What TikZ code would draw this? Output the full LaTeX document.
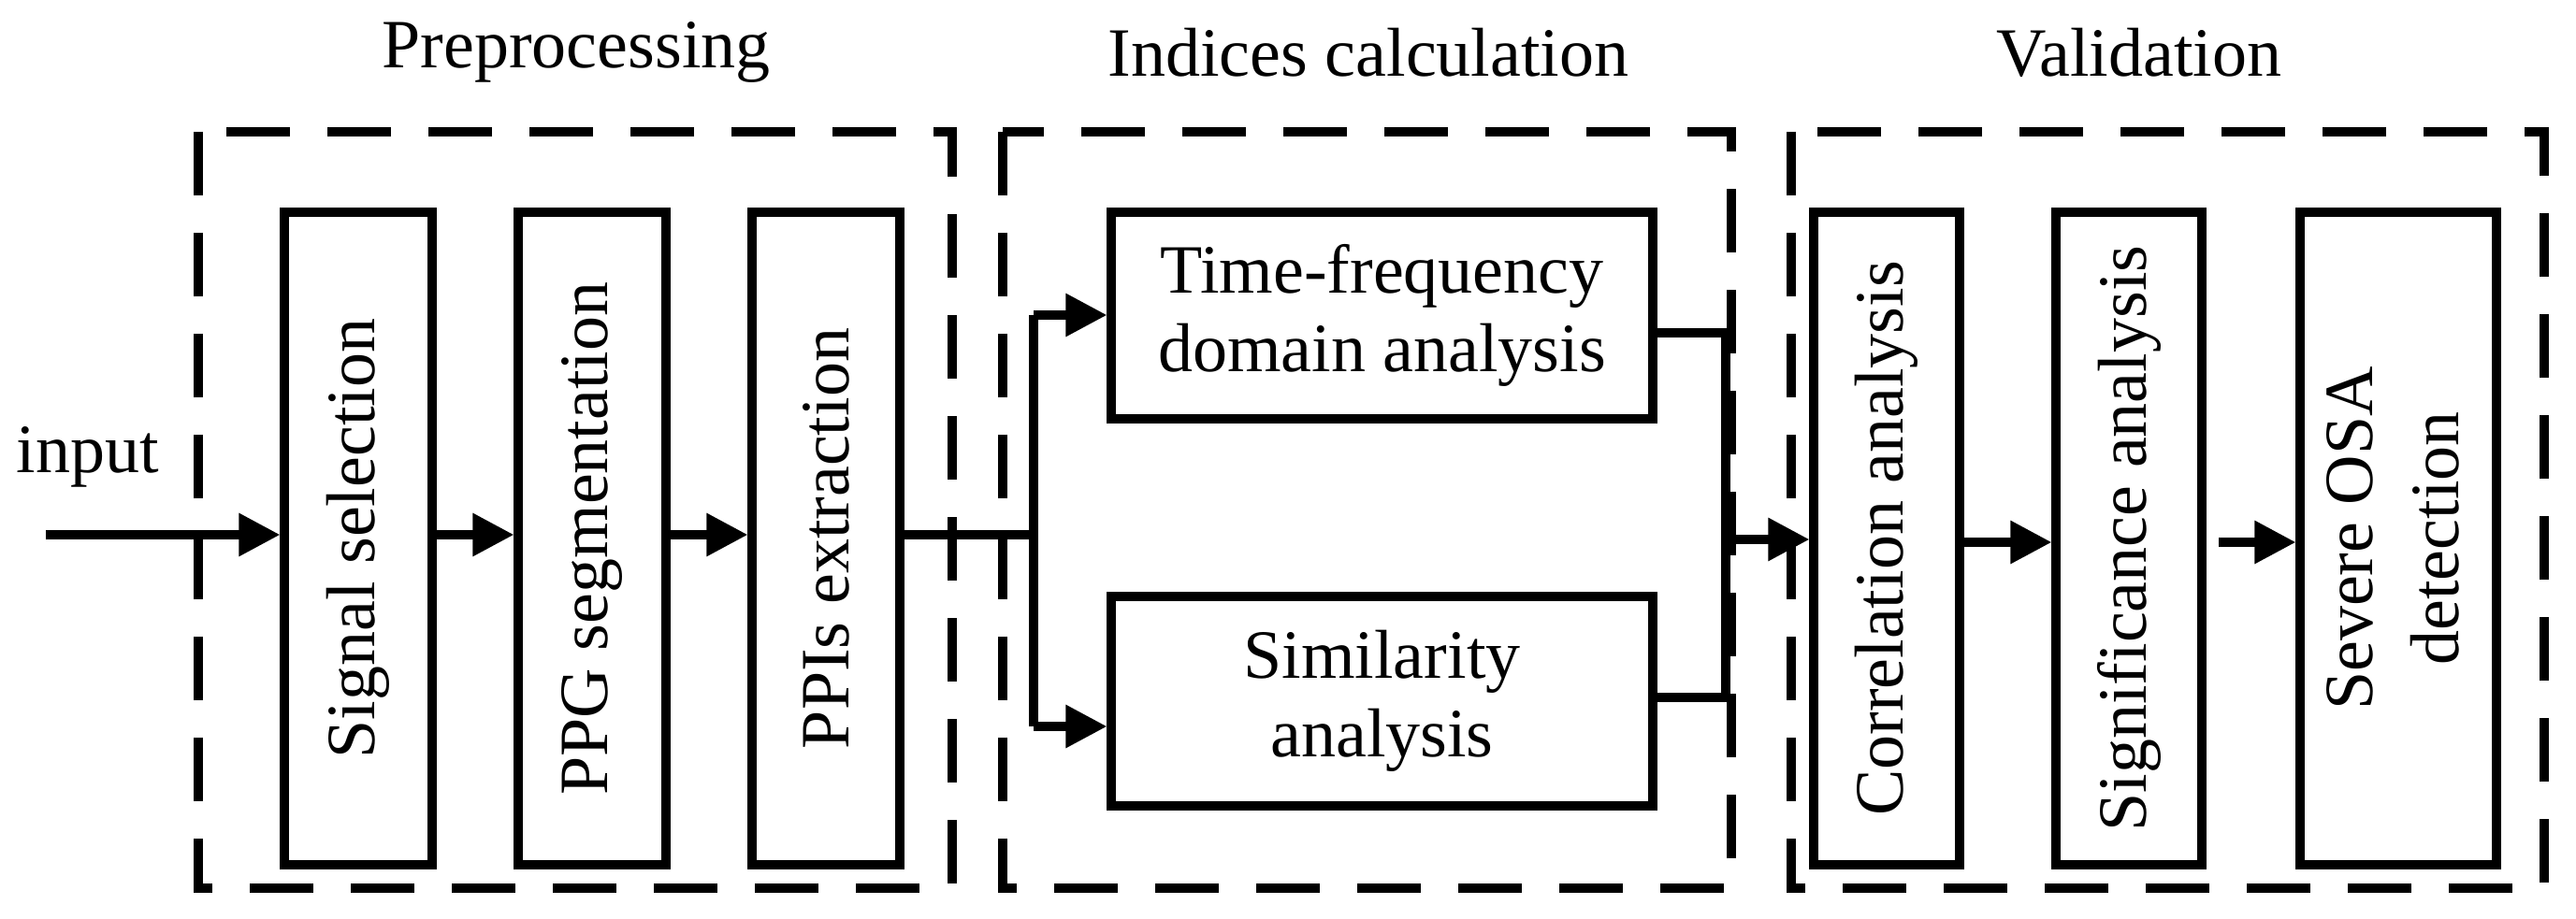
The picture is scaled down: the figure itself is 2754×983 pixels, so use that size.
\documentclass[tikz,border=0pt]{standalone}
\usepackage{fontspec}
\setmainfont{Liberation Serif}
\usetikzlibrary{arrows.meta}
\newcommand\vtext[1]{\rotatebox{90}{#1}}
\begin{document}
\begin{tikzpicture}[x=0.25pt,y=-0.25pt,
  box/.style={draw,line width=2.3pt,inner sep=0pt},
  vbox/.style={box,minimum height=174.5pt},
  grp/.style={draw,line width=2.3pt,dash pattern=on 17pt off 10pt},
  arr/.style={line width=2.3pt,-{Triangle[length=11pt,width=11pt]}},
  ln/.style={line width=2.3pt},
  ttl/.style={font=\fontsize{18.5}{21}\selectfont},
  vt/.style={font=\fontsize{18.5}{23}\selectfont}]
\useasboundingbox (0,0) rectangle (2754,983);
\draw[grp] (212,141) rectangle (1018,950);
\draw[grp] (1072,141) rectangle (1851,950);
\draw[grp] (1915,141) rectangle (2720,950);
\node[ttl] (t1) at (616,56) {Preprocessing};
\node[ttl] (t2) at (1463,56) {Indices calculation};
\node[ttl] (t3) at (2287,56) {Validation};
\node[ttl] (in) at (94,489) {input};
\coordinate (ins) at (49,572);
\node[vbox,minimum width=39.5pt,vt] (sig) at (383,576) {\vtext{Signal selection}};
\node[vbox,minimum width=39.5pt,vt] (ppg) at (633,576) {\vtext{PPG segmentation}};
\node[vbox,minimum width=39.5pt,vt] (ppi) at (883,576) {\vtext{PPIs extraction}};
\node[box,minimum width=144.75pt,minimum height=55.25pt,ttl,align=center] (tf) at (1477.5,337.5) {Time-frequency\\domain analysis};
\node[box,minimum width=144.75pt,minimum height=56pt,ttl,align=center] (sim) at (1477.5,750) {Similarity\\analysis};
\node[vbox,minimum width=39pt,vt] (cor) at (2017,576) {\vtext{Correlation analysis}};
\node[vbox,minimum width=39pt,vt] (sga) at (2276,576) {\vtext{Significance analysis}};
\node[vbox,minimum width=52.5pt,vt] (sev) at (2564,576) {\vtext{\begin{tabular}{@{}c@{}}Severe OSA\\detection\end{tabular}}};
\draw[arr] (ins) -- (ins -| sig.west);
\draw[arr] (sig.east |- 0,572) -- (ppg.west |- 0,572);
\draw[arr] (ppg.east |- 0,572) -- (ppi.west |- 0,572);
\coordinate (sp) at (1105,572);
\coordinate (spt) at (1105,337);
\coordinate (spb) at (1105,777);
\draw[ln] (ppi.east |- 0,572) -- (sp);
\draw[ln] (spt) -- (spb);
\draw[arr] (spt) -- (spt -| tf.west);
\draw[arr] (spb) -- (spb -| sim.west);
\coordinate (mt) at (1845,356);
\coordinate (mb) at (1845,746);
\coordinate (mm) at (1845,577);
\draw[ln] (tf.east |- mt) -- (mt) -- (mb) -- (sim.east |- mb);
\draw[arr] (mm) -- (mm -| cor.west);
\draw[arr] (cor.east |- 0,580) -- (sga.west |- 0,580);
\coordinate (s2) at (2372,580);
\draw[arr] (s2) -- (s2 -| sev.west);
\end{tikzpicture}
\end{document}
